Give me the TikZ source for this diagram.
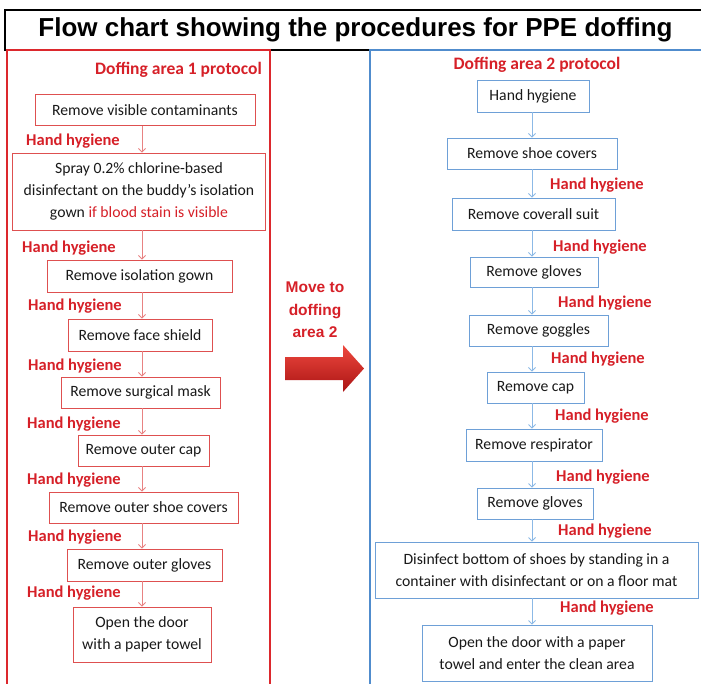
\documentclass[tikz,border=0pt]{standalone}
\usepackage{fontspec}
\setmainfont{Carlito}
\newfontfamily\arialfont{Liberation Sans}
\usetikzlibrary{arrows.meta}
\definecolor{hhred}{RGB}{214,32,40}
\definecolor{boxred}{RGB}{222,80,80}
\definecolor{panelred}{RGB}{220,40,45}
\definecolor{arrred}{RGB}{232,130,130}
\definecolor{boxblue}{RGB}{110,160,215}
\definecolor{panelblue}{RGB}{80,140,205}
\definecolor{arrblue}{RGB}{140,185,230}
\definecolor{bigtop}{RGB}{238,72,62}
\definecolor{bigbot}{RGB}{170,20,20}

\begin{document}
\begin{tikzpicture}[x=1pt, y=-1pt,
    lbox/.style={rectangle, draw=boxred, line width=0.9pt, fill=white, text=black!90, font=\fontsize{15.7}{22}\selectfont, align=center, inner sep=3},
    rbox/.style={lbox, draw=boxblue},
    hh/.style={text=hhred, font=\fontsize{16.5}{20}\selectfont\bfseries, anchor=west, inner sep=0},
    head/.style={text=hhred, font=\fontsize{17.5}{21}\selectfont\bfseries, inner sep=0},
    larr/.style={draw=arrred, line width=0.8pt, -{Straight Barb[length=3.5pt,width=7pt]}},
    rarr/.style={larr, draw=arrblue}]
        \useasboundingbox (0,0) rectangle (701,683);

        \node[draw, line width=2.2pt, minimum width=701, minimum height=40, inner sep=0, font=\arialfont\bfseries\fontsize{26}{30}\selectfont] (title) at (355.5,30) {Flow chart showing the procedures for PPE doffing};
        \draw[panelred, line width=1.6pt] (7,690) -- (7,50) -- (270,50) -- (270,690);
        \draw[panelblue, line width=1.6pt] (370,690) -- (370,50) -- (710,50);

        \node[head, anchor=east] (lhead) at (262,70) {Doffing area 1 protocol};
        \node[lbox, minimum width=220, minimum height=31] (L1) at (145,110) {Remove visible contaminants};
        \node[hh] (lh1) at (26,141) {Hand hygiene};
        \node[lbox, minimum width=253, minimum height=77] (L2) at (139,191.5) {Spray 0.2\% chlorine-based\\disinfectant on the buddy’s isolation\\gown {\color{hhred}if blood stain is visible}};
        \node[hh] (lh2) at (22,248) {Hand hygiene};
        \node[lbox, minimum width=185, minimum height=32] (L3) at (139.5,276) {Remove isolation gown};
        \node[hh] (lh3) at (28,306) {Hand hygiene};
        \node[lbox, minimum width=144, minimum height=32] (L4) at (140,335) {Remove face shield};
        \node[hh] (lh4) at (28,366) {Hand hygiene};
        \node[lbox, minimum width=159, minimum height=31] (L5) at (140.5,392.5) {Remove surgical mask};
        \node[hh] (lh5) at (27,424) {Hand hygiene};
        \node[lbox, minimum width=131, minimum height=31] (L6) at (143.5,450.5) {Remove outer cap};
        \node[hh] (lh6) at (27,480) {Hand hygiene};
        \node[lbox, minimum width=189, minimum height=31] (L7) at (143.5,507.5) {Remove outer shoe covers};
        \node[hh] (lh7) at (28,537) {Hand hygiene};
        \node[lbox, minimum width=155, minimum height=32] (L8) at (144.5,565) {Remove outer gloves};
        \node[hh] (lh8) at (27,593) {Hand hygiene};
        \node[lbox, minimum width=138, minimum height=55] (L9) at (142,634.5) {Open the door\\with a paper towel};

        \node[text=hhred, align=center, inner sep=0, font=\arialfont\bfseries\fontsize{15.5}{22.5}\selectfont] (move) at (315,310) {Move to\\doffing\\area 2};
        \shade[top color=bigtop, bottom color=bigbot] (285,357) -- (343,357) -- (343,345) -- (364,368.5) -- (343,392) -- (343,380) -- (285,380) -- cycle;

        \node[head] (rhead) at (537,65) {Doffing area 2 protocol};
        \node[rbox, minimum width=112, minimum height=32] (R1) at (533,96) {Hand hygiene};
        \node[rbox, minimum width=170, minimum height=31] (R2) at (532,153.5) {Remove shoe covers};
        \node[hh] (rh2) at (550,185) {Hand hygiene};
        \node[rbox, minimum width=163, minimum height=32] (R3) at (533.5,214) {Remove coverall suit};
        \node[hh] (rh3) at (553,247) {Hand hygiene};
        \node[rbox, minimum width=128, minimum height=30] (R4) at (534,272) {Remove gloves};
        \node[hh] (rh4) at (558,303) {Hand hygiene};
        \node[rbox, minimum width=139, minimum height=31] (R5) at (538.5,330.5) {Remove goggles};
        \node[hh] (rh5) at (551,359) {Hand hygiene};
        \node[rbox, minimum width=97, minimum height=31] (R6) at (535.5,387.5) {Remove cap};
        \node[hh] (rh6) at (555,416) {Hand hygiene};
        \node[rbox, minimum width=136, minimum height=32] (R7) at (534,445) {Remove respirator};
        \node[hh] (rh7) at (556,477) {Hand hygiene};
        \node[rbox, minimum width=116, minimum height=31] (R8) at (535,503.5) {Remove gloves};
        \node[hh] (rh8) at (558,531) {Hand hygiene};
        \node[rbox, minimum width=323, minimum height=56] (R9) at (536.5,570) {Disinfect bottom of shoes by standing in a\\container with disinfectant or on a floor mat};
        \node[hh] (rh9) at (560,608) {Hand hygiene};
        \node[rbox, minimum width=230, minimum height=56] (R10) at (537,653) {Open the door with a paper\\towel and enter the clean area};

        \coordinate (lax) at (142,0);
        \coordinate (rax) at (532,0);

        \draw[larr] (L1.south -| lax) -- (L2.north -| lax);
        \draw[larr] (L2.south -| lax) -- (L3.north -| lax);
        \draw[larr] (L3.south -| lax) -- (L4.north -| lax);
        \draw[larr] (L4.south -| lax) -- (L5.north -| lax);
        \draw[larr] (L5.south -| lax) -- (L6.north -| lax);
        \draw[larr] (L6.south -| lax) -- (L7.north -| lax);
        \draw[larr] (L7.south -| lax) -- (L8.north -| lax);
        \draw[larr] (L8.south -| lax) -- (L9.north -| lax);

        \draw[rarr] (R1.south -| rax) -- (R2.north -| rax);
        \draw[rarr] (R2.south -| rax) -- (R3.north -| rax);
        \draw[rarr] (R3.south -| rax) -- (R4.north -| rax);
        \draw[rarr] (R4.south -| rax) -- (R5.north -| rax);
        \draw[rarr] (R5.south -| rax) -- (R6.north -| rax);
        \draw[rarr] (R6.south -| rax) -- (R7.north -| rax);
        \draw[rarr] (R7.south -| rax) -- (R8.north -| rax);
        \draw[rarr] (R8.south -| rax) -- (R9.north -| rax);
        \draw[rarr] (R9.south -| rax) -- (R10.north -| rax);
    \end{tikzpicture}
\end{document}
